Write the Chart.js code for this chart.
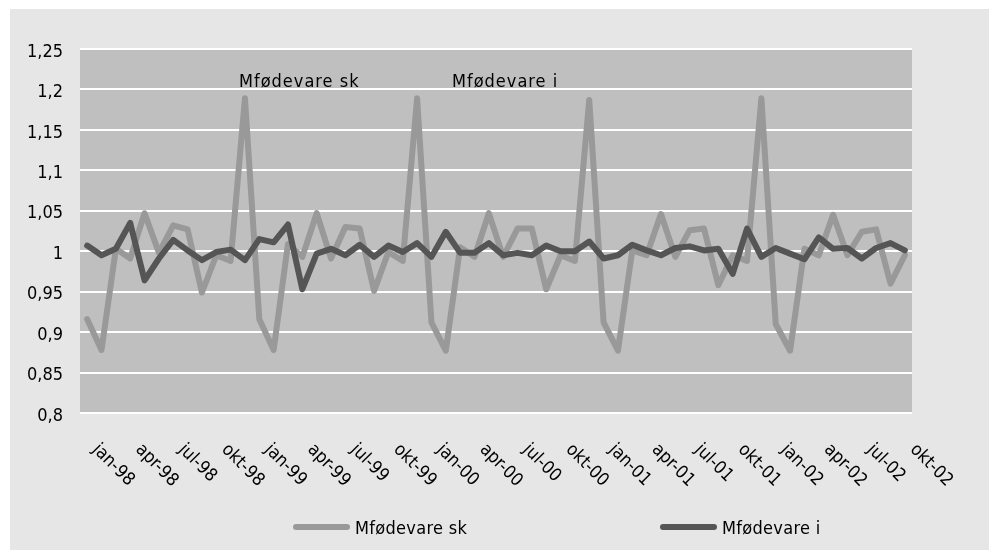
<!DOCTYPE html>
<html lang="da">
<head>
<meta charset="UTF-8">
<title>Mfødevare</title>
<style>
  body { margin: 0; background: #fff; }
  #chart { display: block; }
</style>
</head>
<body>
<canvas id="chart" width="989" height="550"></canvas>

<script src="https://cdn.jsdelivr.net/npm/chart.js"></script>
<script>
    // months jan-98 .. okt-02
    const months = ['jan', 'feb', 'mar', 'apr', 'maj', 'jun', 'jul', 'aug', 'sep', 'okt', 'nov', 'dec'];
    const years = ['98', '99', '00', '01', '02'];
    const categories = [];
    years.forEach(y => months.forEach(m => categories.push(m + '-' + y)));
    categories.length = 58;

    const seriesNames = ['Mfødevare sk', 'Mfødevare i'];

    const mfodevareSk = [
        0.916, 0.878, 1.003, 0.991, 1.047, 0.998, 1.032, 1.027, 0.949, 0.995, 0.988, 1.189,
        0.916, 0.878, 1.009, 0.993, 1.047, 0.991, 1.030, 1.028, 0.951, 0.999, 0.988, 1.189,
        0.912, 0.877, 1.005, 0.993, 1.047, 0.993, 1.028, 1.028, 0.953, 0.995, 0.988, 1.187,
        0.912, 0.877, 1.001, 0.995, 1.046, 0.993, 1.026, 1.028, 0.958, 0.995, 0.988, 1.189,
        0.910, 0.877, 1.003, 0.995, 1.045, 0.995, 1.024, 1.027, 0.960, 0.995
    ];

    const mfodevareI = [
        1.007, 0.995, 1.003, 1.035, 0.964, 0.991, 1.014, 1.001, 0.989, 0.999, 1.002, 0.989,
        1.015, 1.011, 1.033, 0.953, 0.997, 1.003, 0.995, 1.008, 0.993, 1.007, 0.999, 1.010,
        0.993, 1.024, 0.998, 0.998, 1.010, 0.995, 0.998, 0.995, 1.007, 1.000, 1.000, 1.012,
        0.991, 0.995, 1.008, 1.001, 0.995, 1.004, 1.006, 1.001, 1.003, 0.972, 1.028, 0.993,
        1.004, 0.997, 0.990, 1.017, 1.003, 1.004, 0.991, 1.004, 1.010, 1.001
    ];

    const yMin = 0.8;
    const yMax = 1.25;
    const yStep = 0.05;

    const FONT = '"DejaVu Sans Condensed", "Liberation Sans Narrow", "Liberation Sans", sans-serif';
    Chart.defaults.font.family = FONT;
    Chart.defaults.font.size = 18;
    Chart.defaults.color = '#000';

    // backgrounds: outer grey box + plot area
    const backgrounds = {
        id: 'backgrounds',
        beforeDraw(chart) {
            const { ctx, chartArea: a } = chart;
            ctx.save();
            ctx.fillStyle = '#ffffff';
            ctx.fillRect(0, 0, chart.width, chart.height);
            ctx.fillStyle = '#e6e6e6';
            ctx.fillRect(10, 9, chart.width - 10, chart.height - 9);
            ctx.fillStyle = '#bfbfbf';
            ctx.fillRect(a.left, a.top, a.right - a.left, a.bottom - a.top);
            ctx.restore();
        }
    };

    // rotated month labels, annotations and legend
    const extras = {
        id: 'extras',
        afterDraw(chart) {
            const { ctx } = chart;
            const x = chart.scales.x;
            const sets = chart.data.datasets;
            ctx.save();
            ctx.font = '18px ' + FONT;
            ctx.fillStyle = '#000';

            ctx.textAlign = 'left';
            ctx.textBaseline = 'middle';
            categories.forEach((c, i) => {
                if (i % 3 !== 0) return;
                const px = x.getPixelForValue(i);
                ctx.save();
                ctx.translate(px + 8, 447);
                ctx.rotate(Math.PI / 4);
                ctx.fillText(c, 0, 0);
                ctx.restore();
            });

            // text boxes inside the plot
            ctx.textBaseline = 'alphabetic';
            ctx.letterSpacing = '1px';
            ctx.fillText(sets[0].label, 239, 87);
            ctx.fillText(sets[1].label, 452, 87);
            ctx.letterSpacing = '0.3px';

            // legend
            const legendX = [293, 660];
            sets.forEach((ds, k) => {
                const lx = legendX[k];
                ctx.strokeStyle = ds.borderColor;
                ctx.lineWidth = 6;
                ctx.lineCap = 'round';
                ctx.beginPath();
                ctx.moveTo(lx + 3, 527);
                ctx.lineTo(lx + 54, 527);
                ctx.stroke();
                ctx.textBaseline = 'middle';
                ctx.fillText(ds.label, lx + 62, 529);
            });
            ctx.restore();
        }
    };

    new Chart(document.getElementById('chart'), {
        type: 'line',
        data: {
            labels: categories,
            datasets: [
                {
                    label: seriesNames[0],
                    data: mfodevareSk,
                    borderColor: '#999999',
                    borderWidth: 6,
                    order: 1
                },
                {
                    label: seriesNames[1],
                    data: mfodevareI,
                    borderColor: '#555555',
                    borderWidth: 6,
                    order: 0
                }
            ]
        },
        options: {
            responsive: false,
            animation: false,
            events: [],
            layout: { padding: { left: 0, top: 49, right: 77, bottom: 137 } },
            elements: {
                point: { radius: 0 },
                line: { tension: 0, borderJoinStyle: 'round', borderCapStyle: 'round' }
            },
            plugins: {
                legend: { display: false },
                tooltip: { enabled: false }
            },
            scales: {
                x: {
                    offset: true,
                    grid: { display: false },
                    border: { display: false },
                    ticks: { display: false },
                    afterFit(scale) { scale.height = 0; }
                },
                y: {
                    min: yMin,
                    max: yMax,
                    border: { display: false },
                    grid: { color: '#ffffff', lineWidth: 2, drawTicks: false },
                    ticks: {
                        stepSize: yStep,
                        padding: 17,
                        labelOffset: 3,
                        callback: v => String(Math.round(v * 100) / 100).replace('.', ',')
                    },
                    afterFit(scale) { scale.width = 80; }
                }
            }
        },
        plugins: [backgrounds, extras]
    });
</script>
</body>
</html>
